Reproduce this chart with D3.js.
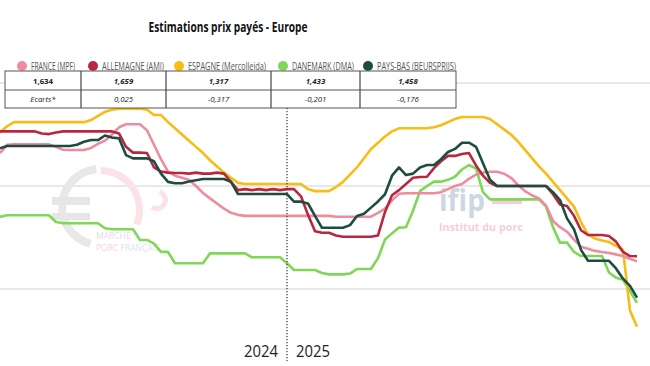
<!DOCTYPE html>
<html>
<head>
<meta charset="utf-8">
<script src="https://cdn.jsdelivr.net/npm/d3@7/dist/d3.min.js"></script>
<style>
  body { margin: 0; background: #fff; }
  svg { display: block; font-family: "Open Sans", sans-serif; }
</style>
</head>
<body>
<div id="chart"></div>
<script>
// weeks shown : 2024 S12..S52 then 2025 S1..S51
var weeks2024 = d3.range(12, 53);
var weeks2025 = d3.range(1, 52);
var weeks = weeks2024.map(function(w){ return "2024-S" + w; })
  .concat(weeks2025.map(function(w){ return "2025-S" + w; }));

var countries = ["FRANCE (MPF)", "ALLEMAGNE (AMI)", "ESPAGNE (Mercolleida)", "DANEMARK (DMA)", "PAYS-BAS (BEURSPRIJS)"];
var colors = ["#ee8c9e", "#b7283e", "#f7bd12", "#7fd657", "#1d4d41"];
var lastPrices = ["1,634", "1,659", "1,317", "1,433", "1,458"];
var ecarts = ["Ecarts*", "0,025", "-0,317", "-0,201", "-0,176"];
var yTicks = [1.5, 2.0, 2.5];

// prix (EUR/kg)
var france = [2.16,2.20,2.202,2.202,2.202,2.202,2.202,2.202,2.19,2.176,2.175,2.175,2.175,2.185,2.205,2.22,2.25,2.285,2.30,2.30,
  2.30,2.27,2.20,2.13,2.07,2.05,2.04,2.03,2.00,1.966,1.94,1.915,1.89,1.87,1.86,1.855,1.855,1.855,1.855,1.855,1.855,
  1.855,1.855,1.855,1.855,1.855,1.855,1.855,1.851,1.851,1.851,1.851,1.851,1.851,1.87,1.89,1.93,1.962,1.965,1.965,1.965,
  1.965,1.965,1.97,1.985,2.0,2.01,2.035,2.055,2.065,2.069,2.069,2.06,2.04,2.005,1.975,1.955,1.94,1.905,1.83,1.80,
  1.778,1.74,1.705,1.695,1.685,1.68,1.675,1.668,1.66,1.647,1.634];
var allemagne = [2.265,2.265,2.265,2.265,2.265,2.265,2.255,2.252,2.26,2.265,2.265,2.265,2.265,2.265,2.265,2.265,2.265,
  2.255,2.19,2.162,2.162,2.16,2.09,2.07,2.065,2.063,2.063,2.06,2.065,2.06,2.06,2.065,2.06,2.02,1.98,1.985,1.98,1.985,
  1.98,1.985,1.98,
  1.985,1.985,1.95,1.86,1.78,1.773,1.773,1.76,1.754,1.754,1.754,1.754,1.754,1.76,1.874,1.955,1.98,2.01,2.04,2.044,
  2.045,2.087,2.12,2.146,2.146,2.155,2.16,2.10,2.05,2.015,2.0,2.0,2.0,2.0,2.0,2.0,2.0,2.0,1.96,1.91,1.903,1.855,
  1.785,1.762,1.762,1.762,1.757,1.73,1.68,1.66,1.659];
var espagne = [2.26,2.29,2.31,2.31,2.31,2.31,2.31,2.31,2.31,2.31,2.31,2.31,2.31,2.32,2.34,2.36,2.37,2.375,2.375,2.375,
  2.375,2.37,2.345,2.345,2.31,2.28,2.25,2.22,2.19,2.16,2.125,2.095,2.065,2.04,2.015,2.01,2.01,2.01,2.01,2.01,2.01,
  2.01,2.01,2.01,1.985,1.975,1.975,1.975,1.995,2.02,2.055,2.09,2.135,2.18,2.21,2.24,2.265,2.28,2.28,2.28,2.28,2.28,
  2.285,2.295,2.31,2.325,2.335,2.335,2.335,2.335,2.325,2.30,2.275,2.25,2.215,2.175,2.135,2.095,2.06,2.02,1.98,1.94,
  1.90,1.825,1.765,1.745,1.735,1.728,1.71,1.69,1.395,1.317];
var danemark = [1.85,1.858,1.858,1.858,1.858,1.858,1.858,1.858,1.825,1.819,1.819,1.819,1.819,1.819,1.819,1.795,1.79,
  1.79,1.79,1.79,1.738,1.738,1.72,1.68,1.68,1.625,1.625,1.625,1.625,1.625,1.673,1.673,1.673,1.673,1.673,1.673,1.654,
  1.654,1.654,1.654,1.654,
  1.625,1.592,1.592,1.592,1.592,1.578,1.571,1.571,1.571,1.575,1.597,1.597,1.597,1.65,1.74,1.77,1.798,1.80,1.88,1.975,
  2.0,2.021,2.021,2.03,2.045,2.08,2.102,2.085,1.97,1.935,1.935,1.935,1.935,1.935,1.935,1.935,1.935,1.90,1.80,1.725,
  1.725,1.68,1.66,1.66,1.66,1.66,1.58,1.555,1.545,1.49,1.433];
var paysBas = [2.183,2.194,2.194,2.194,2.194,2.194,2.194,2.194,2.194,2.194,2.194,2.20,2.215,2.223,2.223,2.245,2.235,
  2.232,2.15,2.134,2.134,2.134,2.12,2.06,2.02,2.013,2.013,2.022,2.028,2.034,2.034,2.034,2.034,2.02,1.961,1.961,1.961,
  1.961,1.961,1.961,1.961,
  1.961,1.924,1.924,1.915,1.855,1.797,1.797,1.797,1.797,1.81,1.854,1.865,1.895,1.925,1.96,2.05,2.09,2.053,2.06,2.09,
  2.102,2.102,2.13,2.165,2.18,2.21,2.21,2.19,2.11,2.03,2.0,2.0,2.0,2.0,2.0,2.0,2.0,2.0,1.97,1.932,1.843,1.79,1.69,
  1.637,1.637,1.637,1.637,1.60,1.55,1.515,1.458];

var seriesData = [france, allemagne, espagne, danemark, paysBas];
var drawOrder = [3, 2, 0, 1, 4];

var width = 650, height = 366;
var svg = d3.select("#chart").append("svg")
  .attr("width", width)
  .attr("height", height);

var x = d3.scaleLinear().domain([0, weeks.length - 1]).range([0, 637]);
var y = d3.scaleLinear().domain([1.5, 2.5]).range([289, 83]);

// grid
svg.append("g").selectAll("line")
  .data(yTicks)
  .enter().append("line")
    .attr("x1", 0).attr("x2", width)
    .attr("y1", function(d){ return y(d); })
    .attr("y2", function(d){ return y(d); })
    .style("stroke", "#d2d2d2")
    .style("stroke-width", 1.2);

// watermarks
var wm = svg.append("g");
wm.append("path")
  .attr("transform", "translate(100,207)")
  .attr("d", d3.arc().innerRadius(34).outerRadius(42).startAngle(Math.PI * 1.08).endAngle(Math.PI * 1.97)())
  .style("fill", "#e8e8e8");
wm.append("path")
  .attr("transform", "translate(100,210)")
  .attr("d", d3.arc().innerRadius(36).outerRadius(43).startAngle(0.02).endAngle(Math.PI * 0.62)())
  .style("fill", "#fbe2e7");
wm.append("path")
  .attr("transform", "translate(157,200)")
  .attr("d", d3.arc().innerRadius(6).outerRadius(11).startAngle(Math.PI * 0.1).endAngle(Math.PI * 1.2)())
  .style("fill", "#fbe2e7");
wm.append("rect").attr("x", 52).attr("y", 197).attr("width", 38).attr("height", 8).style("fill", "#e6e6e6");
wm.append("rect").attr("x", 52).attr("y", 213).attr("width", 38).attr("height", 7).style("fill", "#e6e6e6");
wm.append("text").attr("x", 96).attr("y", 239).text("MARCHÉ")
  .style("font-size", "8.5px").style("fill", "#e6dbe6");
var pf = wm.append("text").attr("x", 96).attr("y", 251).style("font-size", "8.5px");
pf.append("tspan").text("PORC ").style("fill", "#f8d3db");
pf.append("tspan").text("FRANÇAIS").style("fill", "#dfe4ee");
wm.append("text").attr("x", 439).attr("y", 211).text("ifip")
  .style("font-size", "30px").style("font-weight", "bold").style("fill", "#cdd7e3")
  .attr("textLength", 46).attr("lengthAdjust", "spacingAndGlyphs");
wm.append("rect").attr("x", 492).attr("y", 200).attr("width", 30).attr("height", 4).style("fill", "#f6cdd6");
wm.append("text").attr("x", 439).attr("y", 231).text("Institut du porc")
  .style("font-size", "10.5px").style("font-weight", "bold").style("fill", "#f7cfd8")
  .attr("textLength", 84).attr("lengthAdjust", "spacingAndGlyphs");

// lines
var line = d3.line()
  .x(function(d, i){ return x(i); })
  .y(function(d){ return y(d); });

svg.append("g").selectAll("path")
  .data(drawOrder)
  .enter().append("path")
    .attr("d", function(k){ return line(seriesData[k]); })
    .style("fill", "none")
    .style("stroke", function(k){ return colors[k]; })
    .style("stroke-width", 2.6)
    .style("stroke-linejoin", "round");

// year divider
var xDiv = x(weeks2024.length);
svg.append("line")
  .attr("x1", xDiv).attr("x2", xDiv)
  .attr("y1", 108).attr("y2", 361)
  .style("stroke", "#444")
  .style("stroke-width", 1.3)
  .style("stroke-dasharray", "1.3,1.7");
svg.append("text").attr("x", xDiv - 9).attr("y", 357).text("2024")
  .attr("text-anchor", "end").style("font-size", "17px").style("fill", "#222")
  .attr("textLength", 34).attr("lengthAdjust", "spacingAndGlyphs");
svg.append("text").attr("x", xDiv + 9).attr("y", 357).text("2025")
  .style("font-size", "17px").style("fill", "#222")
  .attr("textLength", 34).attr("lengthAdjust", "spacingAndGlyphs");

// title
svg.append("text")
  .attr("x", 228).attr("y", 32)
  .attr("text-anchor", "middle")
  .text("Estimations prix payés - Europe")
  .style("font-size", "13.5px").style("font-weight", "bold").style("fill", "#111")
  .attr("textLength", 159).attr("lengthAdjust", "spacingAndGlyphs");

var legendX = [22, 93, 179, 283, 368];
var legendW = [44, 62, 78, 62, 79];
var legend = svg.append("g");
countries.forEach(function(c, i){
  legend.append("circle").attr("cx", legendX[i]).attr("cy", 66).attr("r", 5).style("fill", colors[i]);
  legend.append("text").attr("x", legendX[i] + 9).attr("y", 70).text(c)
    .style("font-size", "10.5px").style("fill", "#555")
    .attr("textLength", legendW[i]).attr("lengthAdjust", "spacingAndGlyphs");
});

// table
var colX = [5, 81, 166, 271, 360, 456];
var rowY = [71, 90, 108];
var table = svg.append("g");
table.append("rect")
  .attr("x", colX[0]).attr("y", rowY[0])
  .attr("width", colX[5] - colX[0]).attr("height", rowY[2] - rowY[0])
  .style("fill", "#fff").style("stroke", "#555").style("stroke-width", 1);
table.append("line").attr("x1", colX[0]).attr("x2", colX[5]).attr("y1", rowY[1]).attr("y2", rowY[1])
  .style("stroke", "#555");
table.selectAll("line.col")
  .data(colX.slice(1, 5))
  .enter().append("line").attr("class", "col")
    .attr("x1", function(d){ return d; }).attr("x2", function(d){ return d; })
    .attr("y1", rowY[0]).attr("y2", rowY[2])
    .style("stroke", "#444").style("stroke-width", 1.2);
[lastPrices, ecarts].forEach(function(row, r){
  table.selectAll("text.r" + r)
    .data(row)
    .enter().append("text").attr("class", "r" + r)
      .attr("x", function(d, i){ return (colX[i] + colX[i + 1]) / 2; })
      .attr("y", (rowY[r] + rowY[r + 1]) / 2 + 3)
      .attr("text-anchor", "middle")
      .text(function(d){ return d; })
      .style("font-size", "7.8px")
      .style("font-weight", r == 0 ? "bold" : "normal")
      .style("font-style", function(d, i){ return (r == 0 && i == 0) ? "normal" : "italic"; })
      .style("fill", "#222");
});
</script>
</body>
</html>
